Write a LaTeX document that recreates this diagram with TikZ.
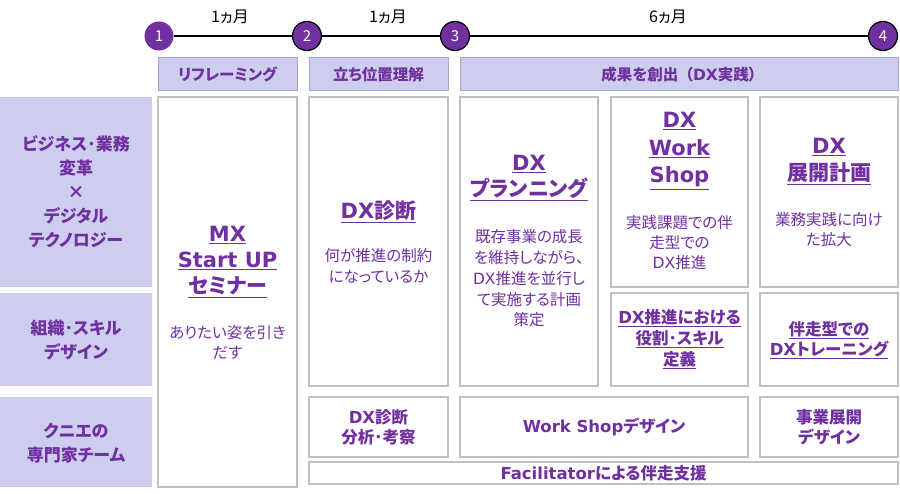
\documentclass[tikz,border=0pt]{standalone}
\usepackage{fontspec}
\setmainfont{Noto Sans CJK JP}[RawFeature=+palt]
\newfontfamily\latfont{DejaVu Sans}
\newcommand\latn[1]{{\latfont #1}}
\definecolor{pur}{HTML}{7030A0}
\definecolor{lav}{HTML}{CDCDEE}
\definecolor{bord}{HTML}{BFBFBF}
\definecolor{hbord}{HTML}{A6A6C8}
\newcommand\ulin[1]{\underline{#1}}
\begin{document}
\begin{tikzpicture}[x=1pt,y=-1pt,
  box/.style={draw=bord,line width=1.2pt,fill=white,inner sep=0pt},
  hdr/.style={draw=hbord,line width=1pt,fill=lav,inner sep=0pt,text=pur,font=\fontsize{15.5}{17}\selectfont\bfseries},
  lab/.style={fill=lav,inner sep=0pt},
  labtxt/.style={text=pur,align=center,font=\fontsize{17}{24}\selectfont\bfseries},
  ttl/.style={text=pur,align=center,font=\fontsize{21}{26}\selectfont\bfseries},
  sttl/.style={text=pur,align=center,font=\fontsize{16.5}{21}\selectfont\bfseries},
  dsc/.style={text=pur,align=center,font=\fontsize{15.5}{21}\selectfont},
  num/.style={circle,fill=pur,minimum size=29pt,inner sep=0pt,text=white,font=\fontsize{15}{16}\selectfont},
  mon/.style={font=\fontsize{16}{17}\selectfont}]
\useasboundingbox (0,0) rectangle (900,494);
% timeline
\node[num] (c1) at (159,36) {1};
\node[num,draw=black,line width=1.2pt] (c2) at (307,36) {2};
\node[num,draw=black,line width=1.2pt] (c3) at (455,36) {3};
\node[num,draw=black,line width=1.2pt] (c4) at (883,36) {4};
\draw[line width=1.8pt] (c1) -- (c2);
\draw[line width=1.8pt] (c2) -- (c3);
\draw[line width=1.8pt] (c3) -- (c4);
\node[mon] (m1) at (230,17) {1ヵ月};
\node[mon] (m2) at (388,17) {1ヵ月};
\node[mon] (m3) at (668,17) {6ヵ月};
% headers
\node[hdr,minimum width=139pt,minimum height=33pt] (h1) at (227.5,74.5) {リフレーミング};
\node[hdr,minimum width=139pt,minimum height=33pt] (h2) at (378.5,74.5) {立ち位置理解};
\node[hdr,minimum width=438pt,minimum height=33pt] (h3) at (679,74.5) {成果を創出\hspace{0.45em}（\latn{DX}実践）\hspace{0.45em}};
% left labels
\node[lab,minimum width=152pt,minimum height=190pt] (l1) at (76,192) {};
\node[lab,minimum width=152pt,minimum height=93pt] (l2) at (76,339.5) {};
\node[lab,minimum width=152pt,minimum height=90pt] (l3) at (76,442) {};
\node[labtxt] (l1t) at (76,192) {ビジネス･業務\\変革\\×\\デジタル\\テクノロジー};
\node[labtxt] (l2t) at (76,340) {組織･スキル\\デザイン};
\node[labtxt] (l3t) at (76,443) {クニエの\\専門家チーム};
% boxes
\node[box,minimum width=139pt,minimum height=390pt] (mx) at (227.5,292) {};
\node[box,minimum width=139pt,minimum height=289pt] (diag) at (378.5,241.5) {};
\node[box,minimum width=139pt,minimum height=60pt] (diag2) at (378.5,427) {};
\node[box,minimum width=589pt,minimum height=22pt] (fac) at (603.5,473) {};
\node[box,minimum width=138pt,minimum height=289pt] (plan) at (529,241.5) {};
\node[box,minimum width=137pt,minimum height=190pt] (ws) at (679.5,192) {};
\node[box,minimum width=138pt,minimum height=190pt] (dep) at (829,192) {};
\node[box,minimum width=137pt,minimum height=93pt] (role) at (679.5,339.5) {};
\node[box,minimum width=138pt,minimum height=93pt] (train) at (829,339.5) {};
\node[box,minimum width=288pt,minimum height=60pt] (wsd) at (604,427) {};
\node[box,minimum width=138pt,minimum height=60pt] (bizd) at (829,427) {};
% texts
\node[ttl] (mxt) at (227.5,262) {\ulin{\latn{MX}}\\\ulin{\latn{Start UP}}\\\ulin{セミナー}};
\node[dsc,font=\fontsize{15.5}{20}\selectfont] (mxd) at (227.5,342) {ありたい姿を引き\\だす};
\node[ttl] (diagt) at (378.5,212) {\ulin{\latn{DX}診断}};
\node[dsc] (diagd) at (378.5,265.5) {何が推進の制約\\になっているか};
\node[ttl] (plant) at (529,178) {\ulin{\latn{DX}}\\\ulin{プランニング}};
\node[dsc,font=\fontsize{15.5}{20.8}\selectfont] (pland) at (529,278.5) {既存事業の成長\\を維持しながら、\\\latn{DX}推進を並行し\\て実施する計画\\策定};
\node[ttl,font=\fontsize{21}{27.5}\selectfont\bfseries] (wst) at (679.5,151) {\ulin{\latn{DX}}\\\ulin{\latn{Work}}\\\ulin{\latn{Shop}}};
\node[dsc,font=\fontsize{15.5}{20}\selectfont] (wsdd) at (679.5,243) {実践課題での伴\\走型での\\\latn{DX}推進};
\node[ttl,font=\fontsize{21}{27}\selectfont\bfseries] (dept) at (829,161.5) {\ulin{\latn{DX}}\\\ulin{展開計画}};
\node[dsc,font=\fontsize{15.5}{20}\selectfont] (depd) at (829,230) {業務実践に向け\\た拡大};
\node[sttl] (rolet) at (679.5,339) {\ulin{\latn{DX}推進における}\\\ulin{役割･スキル}\\\ulin{定義}};
\node[sttl,font=\fontsize{16.5}{20}\selectfont\bfseries] (traint) at (829,340) {\ulin{伴走型での}\\\ulin{\latn{DX}トレーニング}};
\node[sttl,font=\fontsize{16.5}{20}\selectfont\bfseries] (diag2t) at (378.5,427) {\latn{DX}診断\\分析･考察};
\node[sttl] (wsdt) at (604,427) {\latn{Work Shop}デザイン};
\node[sttl,font=\fontsize{16.5}{20}\selectfont\bfseries] (bizdt) at (829,427) {事業展開\\デザイン};
\node[sttl] (fact) at (603.5,473) {\latn{Facilitator}による伴走支援};
\end{tikzpicture}
\end{document}
